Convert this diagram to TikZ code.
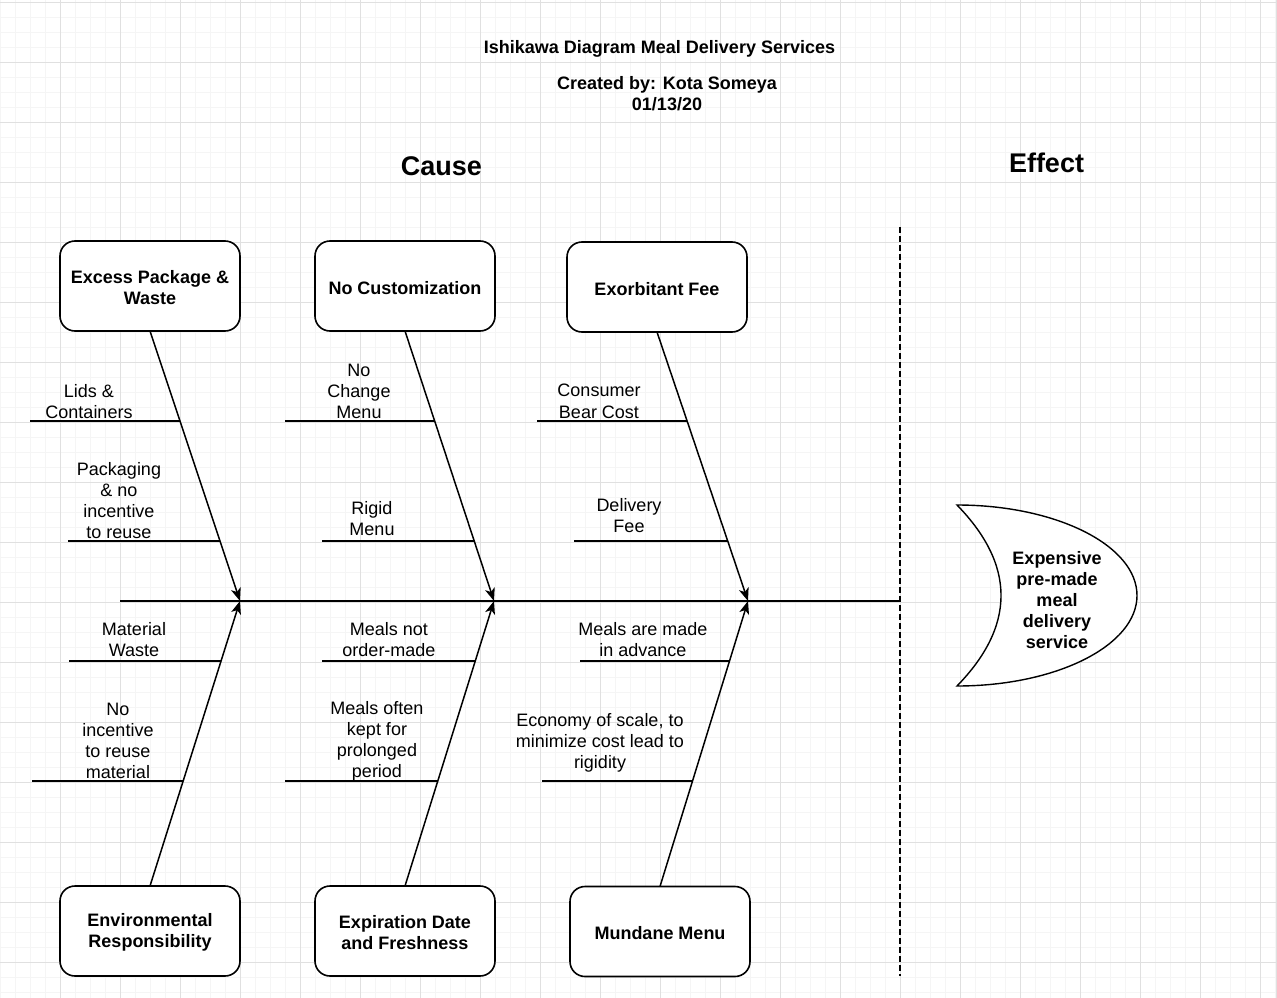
\documentclass[tikz,border=0pt]{standalone}
\usepackage{fontspec}
\setmainfont{Liberation Sans}
\usetikzlibrary{arrows.meta,calc}
\definecolor{gridmajor}{HTML}{E0E0E0}
\definecolor{gridminor}{HTML}{F5F5F5}
\newcommand\boxfnt{\fontsize{18}{21}\selectfont\bfseries}
\newcommand\lblfnt{\fontsize{18}{21}\selectfont}
\newcommand\bigfnt{\fontsize{27}{32}\selectfont\bfseries}
\begin{document}
\begin{tikzpicture}[x=1pt,y=-1pt,
  causebox/.style={draw, line width=1.6pt, rounded corners=15pt, minimum width=180pt,
    minimum height=90pt, inner sep=0pt, outer sep=0pt, fill=white,
    label={[ttl]center:{#1}}},
  lbl/.style={font=\lblfnt, align=center, inner sep=0pt, yshift=-1.8pt},
  ttl/.style={font=\boxfnt, align=center, inner sep=0pt, yshift=-1.8pt},
  bone/.style={line width=1.5pt, -{Stealth[length=13pt,width=10pt,inset=3.5pt]}},
  subbone/.style={line width=1.5pt},
  minorgrid/.style={gridminor, line width=0.8pt},
  majorgrid/.style={gridmajor, line width=0.8pt}]
\useasboundingbox (0,0) rectangle (1277,998);
\fill[white] (0,0) rectangle (1277,998);
% grid
\foreach \x in {0,15,...,1275} \draw[minorgrid] (\x,0) -- (\x,998);
\foreach \y in {2,17,...,997} \draw[minorgrid] (0,\y) -- (1277,\y);
\foreach \x in {60,120,...,1260,1276} \draw[majorgrid] (\x,0) -- (\x,998);
\foreach \y in {2,62,...,962} \draw[majorgrid] (0,\y) -- (1277,\y);

% titles
\node[ttl] (title) at (659.5,47) {Ishikawa Diagram Meal Delivery Services};
\node[ttl] (created) at (667,91.5) {Created by: Kota Someya\\01/13/20};
\node[font=\bigfnt, inner sep=0pt, yshift=-1pt] (cause) at (441.5,165) {Cause};
\node[font=\bigfnt, inner sep=0pt, yshift=-1pt] (effect) at (1046.5,162) {Effect};

% dashed separator and spine
\coordinate (d0) at (900,227);
\coordinate (d1) at (900,976);
\draw[line width=1.4pt, dash pattern=on 6pt off 3pt] (d0) -- (d1);
\coordinate (s0) at (120,601);
\coordinate (s1) at (900,601);
\draw[subbone] (s0) -- (s1);
\coordinate (t1) at (240,601);
\coordinate (t2) at (494,601);
\coordinate (t3) at (748,601);

% boxes
\node[causebox={Excess Package \&\\Waste}] (b1) at (150,286) {};
\node[causebox={No Customization}] (b2) at (405,286) {};
\node[causebox={Exorbitant Fee}] (b3) at (657,287) {};
\node[causebox={Environmental\\Responsibility}] (b4) at (150,931) {};
\node[causebox={Expiration Date\\and Freshness}] (b5) at (405,931) {};
\node[causebox={Mundane Menu}] (b6) at (660,931.5) {};

% main bones
\draw[bone] (b1.south) -- (t1);
\draw[bone] (b2.south) -- (t2);
\draw[bone] (b3.south) -- (t3);
\draw[bone] (b4.north) -- (t1);
\draw[bone] (b5.north) -- (t2);
\draw[bone] (b6.north) -- (t3);

% sub-bone end points on the bones
\coordinate (e1a) at ($(b1.south)!0.3333!(t1)$);
\coordinate (e1b) at ($(b1.south)!0.7778!(t1)$);
\coordinate (e4a) at ($(b4.north)!0.7895!(t1)$);
\coordinate (e4b) at ($(b4.north)!0.3684!(t1)$);
\coordinate (e2a) at ($(b2.south)!0.3333!(t2)$);
\coordinate (e2b) at ($(b2.south)!0.7778!(t2)$);
\coordinate (e5a) at ($(b5.north)!0.7895!(t2)$);
\coordinate (e5b) at ($(b5.north)!0.3684!(t2)$);
\coordinate (e3a) at ($(b3.south)!0.3309!(t3)$);
\coordinate (e3b) at ($(b3.south)!0.7770!(t3)$);
\coordinate (e6a) at ($(b6.north)!0.7895!(t3)$);
\coordinate (e6b) at ($(b6.north)!0.3684!(t3)$);

% sub-bone free ends
\coordinate (f1a) at (30,421);
\coordinate (f1b) at (68,541);
\coordinate (f4a) at (69,661);
\coordinate (f4b) at (32,781);
\coordinate (f2a) at (285,421);
\coordinate (f2b) at (322,541);
\coordinate (f5a) at (322,661);
\coordinate (f5b) at (285,781);
\coordinate (f3a) at (537,421);
\coordinate (f3b) at (574,541);
\coordinate (f6a) at (580,661);
\coordinate (f6b) at (542,781);

\draw[subbone] (f1a) -- (f1a -| e1a);
\draw[subbone] (f1b) -- (f1b -| e1b);
\draw[subbone] (f4a) -- (f4a -| e4a);
\draw[subbone] (f4b) -- (f4b -| e4b);
\draw[subbone] (f2a) -- (f2a -| e2a);
\draw[subbone] (f2b) -- (f2b -| e2b);
\draw[subbone] (f5a) -- (f5a -| e5a);
\draw[subbone] (f5b) -- (f5b -| e5b);
\draw[subbone] (f3a) -- (f3a -| e3a);
\draw[subbone] (f3b) -- (f3b -| e3b);
\draw[subbone] (f6a) -- (f6a -| e6a);
\draw[subbone] (f6b) -- (f6b -| e6b);

% labels
\node[lbl] (l1a) at (89,399.5) {Lids \&\\Containers};
\node[lbl] (l1b) at (119,498.5) {Packaging\\\& no\\incentive\\to reuse};
\node[lbl] (l4a) at (134,637.5) {Material\\Waste};
\node[lbl] (l4b) at (118,739.5) {No\\incentive\\to reuse\\material};
\node[lbl] (l2a) at (359,390) {No\\Change\\Menu};
\node[lbl] (l2b) at (372,516.5) {Rigid\\Menu};
\node[lbl] (l5a) at (389,637.5) {Meals not\\order-made};
\node[lbl] (l5b) at (377,739.5) {Meals often\\kept for\\prolonged\\period};
\node[lbl] (l3a) at (599,399.5) {Consumer\\Bear Cost};
\node[lbl] (l3b) at (629,513.5) {Delivery\\Fee};
\node[lbl] (l6a) at (643,637.5) {Meals are made\\in advance};
\node[lbl] (l6b) at (600,741) {Economy of scale, to\\minimize cost lead to\\rigidity};

% effect shape
\draw[line width=1.4pt, fill=white] (957,505)
  arc[start angle=-90, end angle=90, x radius=180, y radius=90.5]
  .. controls (1015.7,625.7) and (1015.7,565.3) .. (957,505) -- cycle;
\node[ttl] (eff) at (1057,598) {Expensive\\pre-made\\meal\\delivery\\service};
\end{tikzpicture}
\end{document}
